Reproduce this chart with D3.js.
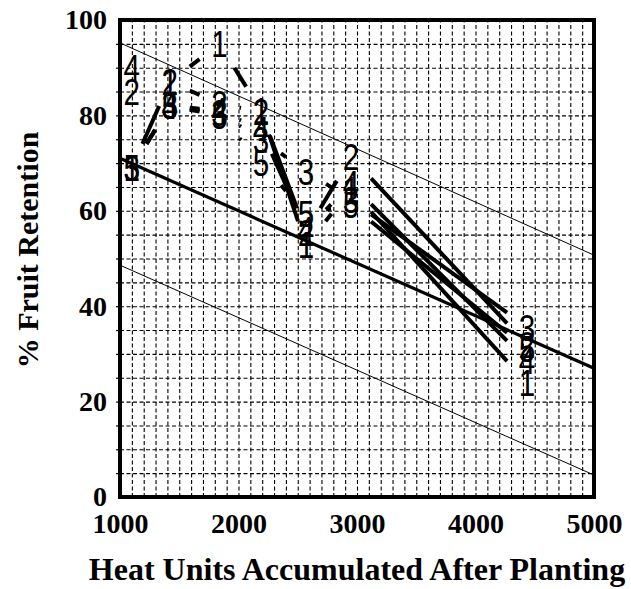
<!DOCTYPE html>
<html>
<head>
<meta charset="utf-8">
<script src="https://cdn.jsdelivr.net/npm/d3@7"></script>
<style>
  body { margin: 0; background: #fff; }
  svg { display: block; }
</style>
</head>
<body>
<div class="chart-div"></div>
<script>
// heat units at each sampling date
const heatUnits = [1100, 1420, 1840, 2190, 2570, 2950, 4435];

// % fruit retention for the five numbered series
const field1 = [69, 87, 95, 81, 52.8, 64.4, 23.9];
const field2 = [85, 87, 82.5, 80.7, 55.5, 71.3, 31.9];
const field3 = [69, 82, 80.5, 75, 68.3, 62.3, 35.6];
const field4 = [90, 82, 81, 77, 56, 65.6, 28.5];
const field5 = [69, 82, 80, 70, 59.5, 61.2, 31];
const fieldNames = ["1", "2", "3", "4", "5"];
const fields = [field1, field2, field3, field4, field5];

// fitted line and the two bands around it
const fitX = [1000, 5000];
const fitMid = [71, 27];
const fitUpper = [95.2, 50.7];
const fitLower = [48.6, 4.6];

const xTicks = [1000, 2000, 3000, 4000, 5000];
const yTicks = [0, 20, 40, 60, 80, 100];

const W = 631, H = 589;
const mLeft = 120, mRight = 594, mTop = 20, mBottom = 497;

const svg = d3.select(".chart-div")
    .append("svg")
    .attr("width", W)
    .attr("height", H);

const x = d3.scaleLinear().domain([1000, 5000]).range([mLeft, mRight]);
const y = d3.scaleLinear().domain([0, 100]).range([mBottom, mTop]);

// dashed grid, every 100 heat units and every 5 %
const gx = svg.append("g")
    .attr("transform", `translate(0,${mBottom})`)
    .call(d3.axisBottom(x).tickValues(d3.range(1100, 5000, 100)).tickSize(-(mBottom - mTop)).tickFormat(""));
const gy = svg.append("g")
    .attr("transform", `translate(${mLeft},0)`)
    .call(d3.axisLeft(y).tickValues(d3.range(5, 100, 5)).tickSize(-(mRight - mLeft)).tickFormat(""));
[gx, gy].forEach(g => {
    g.select(".domain").remove();
    g.selectAll("line")
        .attr("stroke", "#000")
        .attr("stroke-width", 1.1)
        .attr("stroke-dasharray", "4,2.5");
});

// little outside ticks on the left
svg.append("g")
    .attr("transform", `translate(${mLeft},0)`)
    .call(d3.axisLeft(y).tickValues(d3.range(5, 100, 5)).tickSize(4).tickFormat(""))
    .call(g => g.select(".domain").remove())
    .selectAll("line").attr("stroke-width", 1.2);

// tick labels
const xAxis = svg.append("g")
    .attr("transform", `translate(0,${mBottom})`)
    .call(d3.axisBottom(x).tickValues(xTicks).tickSize(0).tickFormat(d3.format("d")));
xAxis.select(".domain").remove();
xAxis.selectAll("text")
    .attr("y", 36)
    .attr("dy", null)
    .attr("fill", "#000")
    .style("font", "bold 28px 'Liberation Serif', serif");

const yAxis = svg.append("g")
    .attr("transform", `translate(${mLeft},0)`)
    .call(d3.axisLeft(y).tickValues(yTicks).tickSize(0).tickPadding(13));
yAxis.select(".domain").remove();
yAxis.selectAll("text")
    .attr("fill", "#000")
    .style("font", "bold 28px 'Liberation Serif', serif");

// fitted lines
const bandLine = d3.line().x(d => x(d[0])).y(d => y(d[1]));
svg.append("path")
    .attr("d", bandLine(d3.zip(fitX, fitUpper)))
    .attr("fill", "none").attr("stroke", "#000").attr("stroke-width", 1);
svg.append("path")
    .attr("d", bandLine(d3.zip(fitX, fitLower)))
    .attr("fill", "none").attr("stroke", "#000").attr("stroke-width", 1);
svg.append("path")
    .attr("d", bandLine(d3.zip(fitX, fitMid)))
    .attr("fill", "none").attr("stroke", "#000").attr("stroke-width", 3.2);

// series: segments cut back around each digit label
const hw = 20, hh = 24;
fields.forEach((vals, k) => {
    const pts = vals.map((v, i) => [x(heatUnits[i]), y(v)]);
    const segs = [];
    for (let i = 0; i < pts.length - 1; i++) {
        const [x0, y0] = pts[i], [x1, y1] = pts[i + 1];
        const dx = x1 - x0, dy = y1 - y0;
        const t = Math.min(dx ? hw / Math.abs(dx) : Infinity, dy ? hh / Math.abs(dy) : Infinity);
        if (2 * t < 0.97) {
            segs.push([x0 + t * dx, y0 + t * dy, x1 - t * dx, y1 - t * dy]);
        }
    }
    svg.append("g").selectAll("line")
        .data(segs).enter()
        .append("line")
        .attr("x1", d => d[0]).attr("y1", d => d[1])
        .attr("x2", d => d[2]).attr("y2", d => d[3])
        .attr("stroke", "#000")
        .attr("stroke-width", 4);

    // narrow, tall digits like the plotter font
    svg.append("g").selectAll("text")
        .data(vals).enter()
        .append("text")
        .attr("transform", (d, i) => `translate(${x(heatUnits[i])},${y(d)}) scale(0.8,1)`)
        .attr("dy", "0.36em")
        .attr("text-anchor", "middle")
        .attr("fill", "#000")
        .style("font", "37px 'Liberation Sans', sans-serif")
        .text(fieldNames[k]);
});

// frame
svg.append("rect")
    .attr("x", mLeft).attr("y", mTop)
    .attr("width", mRight - mLeft).attr("height", mBottom - mTop)
    .attr("fill", "none").attr("stroke", "#000").attr("stroke-width", 4);

// titles
svg.append("text")
    .attr("x", 357).attr("y", 580)
    .attr("text-anchor", "middle")
    .style("font", "bold 32px 'Liberation Serif', serif")
    .text("Heat Units Accumulated After Planting");
svg.append("text")
    .attr("transform", "translate(38,250) rotate(-90)")
    .attr("text-anchor", "middle")
    .style("font", "bold 30px 'Liberation Serif', serif")
    .text("% Fruit Retention");
</script>
</body>
</html>
